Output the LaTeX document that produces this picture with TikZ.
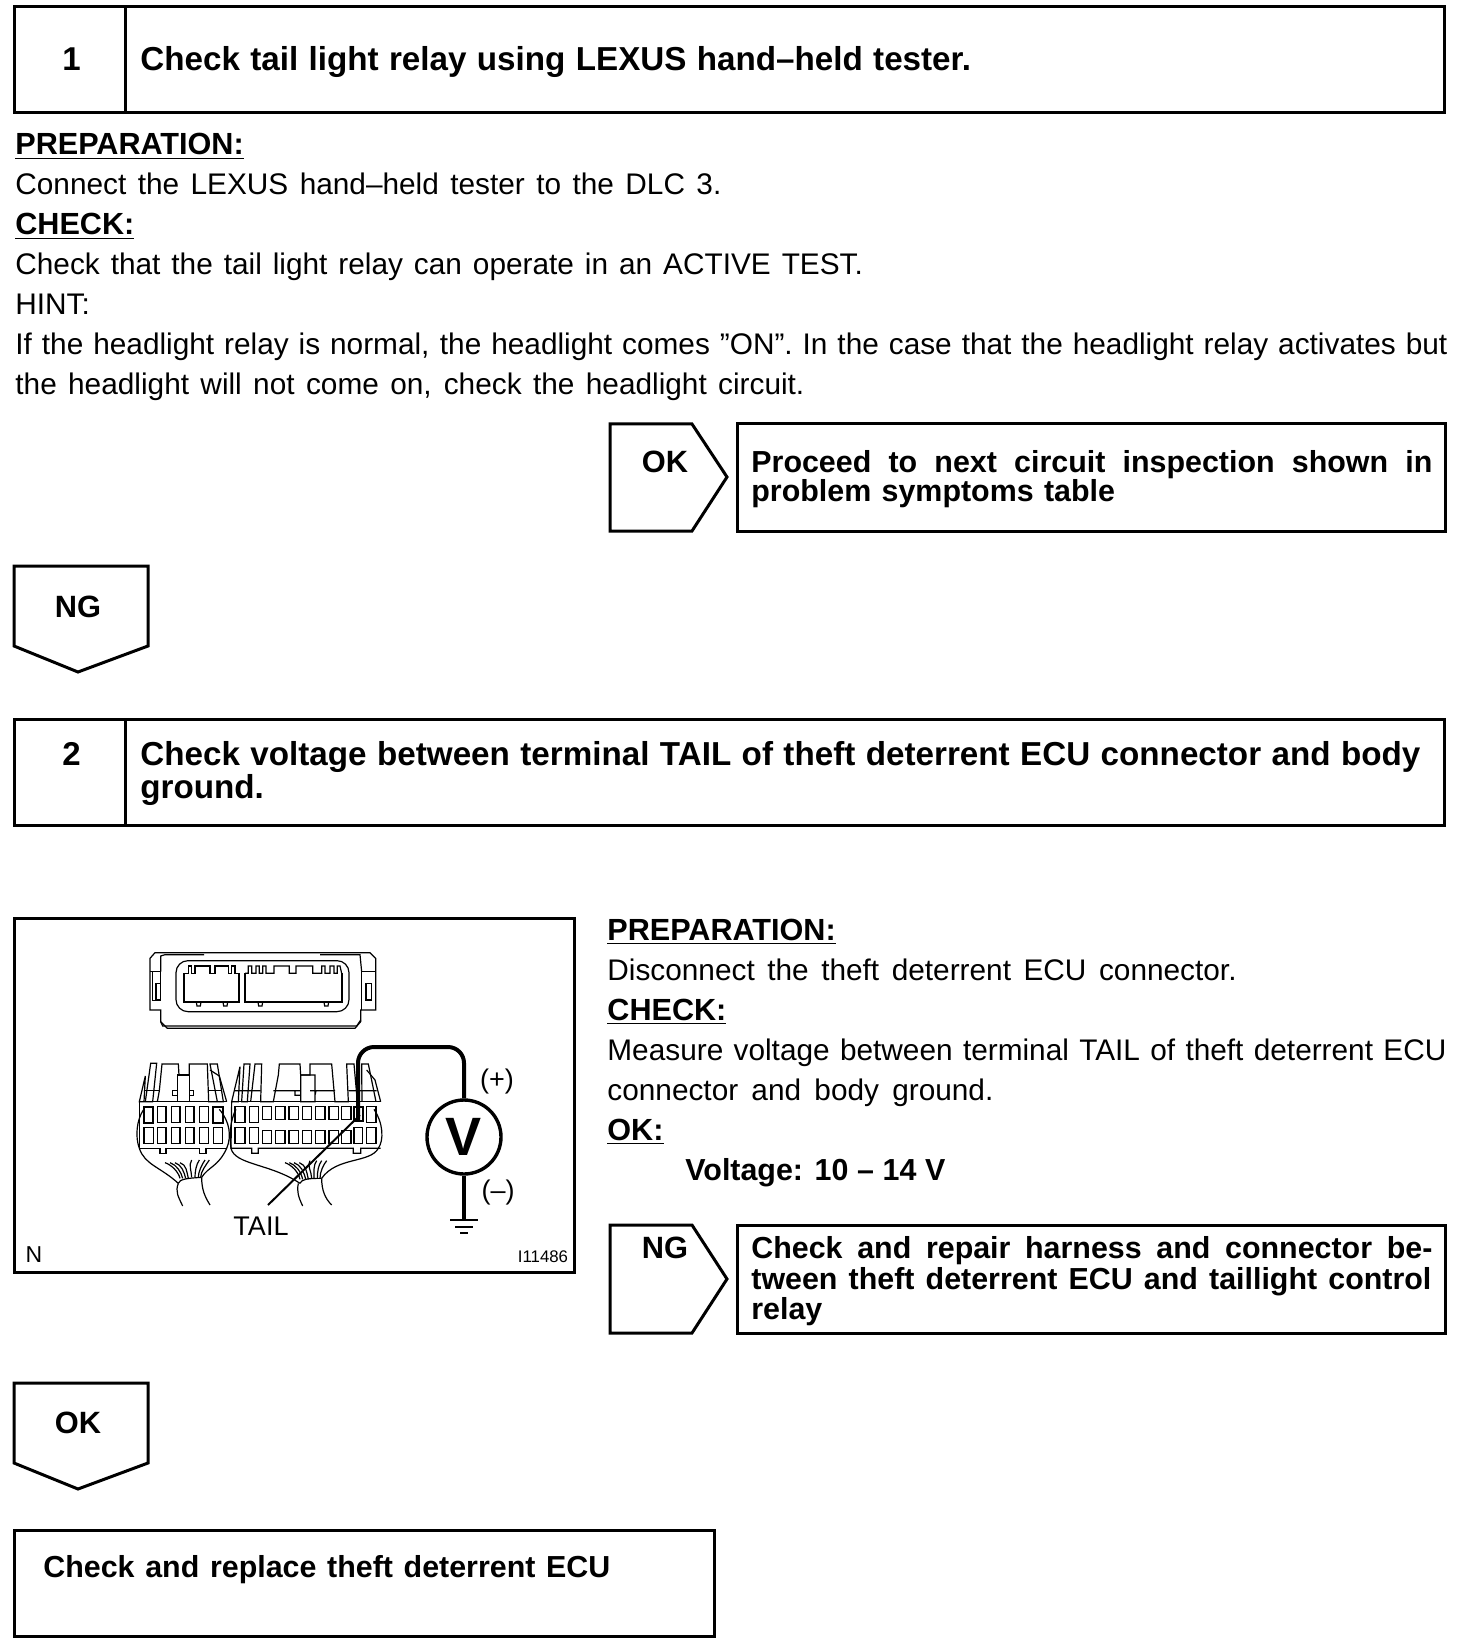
\documentclass[tikz,border=0pt]{standalone}
\usepackage{fontspec}
\setmainfont{Liberation Sans}
\usetikzlibrary{calc, positioning}

\tikzset{
  boxline/.style={line width=1.5pt, line join=miter},
  thinline/.style={line width=0.6pt},
  plain/.style={anchor=base west, inner sep=0pt, font=\fontsize{14.9}{17}\selectfont},
  head/.style={anchor=base west, inner sep=0pt, font=\fontsize{15.3}{18}\bfseries\selectfont},
  boxtext/.style={anchor=base west, inner sep=0pt, font=\fontsize{15.2}{18}\bfseries\selectfont},
  tagtext/.style={anchor=base, inner sep=0pt, font=\fontsize{15.4}{18}\bfseries\selectfont},
  stepnum/.style={anchor=base, inner sep=0pt, font=\fontsize{16.5}{18}\bfseries\selectfont},
  title/.style={anchor=base west, inner sep=0pt, font=\fontsize{16.6}{19}\bfseries\selectfont}
}

\begin{document}
\begin{tikzpicture}[x=0.5pt, y=-0.5pt]
  \useasboundingbox (0,0) rectangle (1472,1652);

  % Step 1 header
  \draw[boxline] (14,7) rectangle (1444,113);
  \draw[boxline] (125.5,7) -- (125.5,113);
  \node[stepnum] (numone) at (71.6,71) {1};
  \node[title] (titleone) at (140,71) {\makebox[415.3pt][s]{Check tail light relay using LEXUS hand–held tester.}};

  % Step 1 text
  \node[head] (prepone) at (15,155) {\underline{PREPARATION:}};
  \node[plain] (connect) at (15,195) {\makebox[353pt][s]{Connect the LEXUS hand–held tester to the DLC 3.}};
  \node[head] (checkone) at (15,235) {\underline{CHECK:}};
  \node[plain] (operate) at (15,275) {\makebox[423.8pt][s]{Check that the tail light relay can operate in an ACTIVE TEST.}};
  \node[plain] (hint) at (15,315) {HINT:};
  \node[plain] (hintone) at (15,355) {\makebox[716pt][s]{If the headlight relay is normal, the headlight comes ”ON”. In the case that the headlight relay activates but}};
  \node[plain] (hinttwo) at (15,395) {\makebox[394.5pt][s]{the headlight will not come on, check the headlight circuit.}};

  % OK result of step 1
  \draw[boxline] (610,424) -- (692,424) -- (727,477) -- (692,531) -- (610,531) -- cycle;
  \node[tagtext] (okone) at (665,473) {OK};
  \draw[boxline] (737,424) rectangle (1445,531);
  \node[boxtext] (procone) at (751,473) {\makebox[340.5pt][s]{Proceed to next circuit inspection shown in}};
  \node[boxtext] (proctwo) at (751,502) {\makebox[181.8pt][s]{problem symptoms table}};

  % NG tag down
  \draw[boxline] (14,566) -- (148,566) -- (148,646) -- (78,672) -- (14,646) -- cycle;
  \node[tagtext] (ngdown) at (78,617) {NG};

  % Step 2 header
  \draw[boxline] (14,719) rectangle (1444,825);
  \draw[boxline] (125.5,719) -- (125.5,825);
  \node[stepnum] (numtwo) at (71.6,765) {2};
  \node[title] (titletwo) at (140,765) {\makebox[640pt][s]{Check voltage between terminal TAIL of theft deterrent ECU connector and body}};
  \node[title] (titlethree) at (140,798) {ground.};

  % Figure frame
  \draw[boxline] (14,918) rectangle (574,1272);

  % ECU side connector
  \begin{scope}[shift={(130,940)}, scale=1/3, thinline]
    \draw (60,210) -- (60,55) -- (75,38) -- (720,38) -- (737,55) -- (737,210) -- (692,210)
      -- (692,245) -- (675,265) -- (112,265) -- (92,245) -- (92,210) -- cycle;
    \draw (92,95) -- (92,48) -- (105,44) -- (222,44) (570,44) -- (690,44) -- (695,95);
    \draw (60,95) -- (92,95) (68,95) -- (68,182) -- (92,182) -- (92,95);
    \draw (737,95) -- (695,95) -- (695,210) (708,130) rectangle (725,180);
    \draw (78,130) rectangle (92,180);
    \draw (92,245) -- (98,258) -- (115,258) -- (680,258) -- (692,240);
    \draw[rounded corners=6pt] (138,62) rectangle (657,215);
    % cavities
    \draw[line width=0.9pt] (162,100) -- (162,186) -- (328,186) -- (328,100)
      (345,100) -- (345,186) -- (635,186) -- (635,100);
    \draw (162,100) -- (175,100) -- (175,78) -- (185,78) -- (185,100) -- (195,100) -- (195,78)
      -- (240,78) -- (240,100) -- (255,100) -- (255,78) -- (295,78) -- (295,100) -- (305,100)
      -- (305,78) -- (315,78) -- (315,100) -- (328,100);
    \draw (345,100) -- (355,100) -- (355,78) -- (365,78) -- (365,100) -- (378,100) -- (378,78)
      -- (388,78) -- (388,100) -- (398,100) -- (398,78) -- (408,78) -- (408,100) -- (432,100)
      -- (432,78) -- (478,78) -- (478,100) -- (498,100) -- (498,78) -- (548,78) -- (548,100)
      -- (575,100) -- (575,78) -- (585,78) -- (585,100) -- (600,100) -- (600,78) -- (612,78)
      -- (612,100) -- (622,100) -- (622,78) -- (630,78) -- (635,100);
    \foreach \tabx in {205,285,390,588}
      \draw (\tabx-6,186) -- (\tabx-4,198) -- (\tabx+6,198) -- (\tabx+8,186);
  \end{scope}

  % Harness side connectors
  \begin{scope}[shift={(130,1050)}, scale=1/3, thinline]
    % left block
    \draw (28,155) -- (46,78) -- (42,155) -- cycle;
    \draw (46,155) -- (62,40) -- (80,40) -- (68,155) -- cycle;
    \draw (82,155) -- (88,122) -- (96,42) -- (145,42) -- (147,75) -- (178,75) -- (178,42) -- (232,42) -- (236,155) -- (262,155) -- (240,42) -- (262,42) -- (280,155) -- (262,155);
    \draw (240,60) -- (268,78) -- (290,155);
    \draw (45,122) -- (88,122) (142,122) -- (128,122) -- (128,136) -- (142,136)
      (178,136) -- (190,136) -- (190,122) -- (178,122) (236,122) -- (272,122);
    \draw (142,75) rectangle (178,155);
    \draw (28,155) -- (290,155);
    \draw (28,155) -- (28,295) -- (90,295) -- (90,310) -- (108,310) -- (108,295) -- (208,295)
      -- (208,310) -- (228,310) -- (228,295) -- (292,295);
    \draw (40,180) .. controls (20,210) and (15,260) .. (28,295)
      .. controls (45,345) and (90,350) .. (145,400);
    \draw (268,178) .. controls (300,215) and (305,260) .. (290,295)
      .. controls (265,350) and (235,350) .. (215,382);
    \draw (145,400) .. controls (150,388) and (165,385) .. (215,382);
    \draw (145,400) .. controls (135,425) and (145,440) .. (158,468)
      (215,382) .. controls (215,420) and (225,440) .. (240,465);
    \foreach \wa/\wb in {105/150,120/158,135/167,150/175}
      \draw (\wa,338) .. controls (\wa+20,345) and (\wb-5,365) .. (\wb,385);
    \foreach \wa/\wb in {185/185,208/195,225/205,238/212}
      \draw (\wa,330) .. controls (\wa-10,345) and (\wb,365) .. (\wb,382);
    \foreach \cella/\cellb in {82/108,124/150,166/192,208/235} {
      \draw[line width=0.8pt] (\cella,170) rectangle (\cellb,218);
      \draw[line width=0.8pt] (\cella,232) rectangle (\cellb,280);
    }
    \foreach \cella/\cellb in {42/70,250/278} {
      \draw[line width=1.1pt] (\cella,170) rectangle (\cellb,218);
      \draw[line width=0.8pt] (\cella,232) rectangle (\cellb,280);
    }
    % right block
    \draw (305,155) -- (330,50) -- (325,155) -- cycle;
    \draw (335,155) -- (342,42) -- (360,42) -- (352,155) -- cycle;
    \draw (362,155) -- (375,42) -- (395,42) -- (392,155) -- (430,155) -- (445,75) -- (448,42) -- (510,42) -- (512,75) -- (540,75) -- (540,42) -- (605,42) -- (615,155) -- (655,155) -- (650,42) -- (672,42) -- (682,155);
    \draw (696,155) -- (695,42) -- (715,42) -- (738,155);
    \draw (710,60) -- (735,90) -- (752,155);
    \draw (315,122) -- (392,122) (430,122) -- (512,122) (512,75) rectangle (555,155)
      (512,136) -- (495,136) -- (495,122) (555,136) -- (558,122) -- (540,122) (555,122) -- (615,122) (655,122) -- (740,122);
    \draw (305,155) -- (752,155);
    \draw (305,155) -- (303,295) -- (365,295) -- (365,310) -- (385,310) -- (385,295) -- (670,295)
      -- (670,310) -- (692,310) -- (692,295) -- (752,295);
    \draw (318,178) .. controls (300,210) and (298,260) .. (303,295)
      .. controls (315,345) and (420,340) .. (510,400);
    \draw (732,178) .. controls (760,220) and (762,270) .. (745,295)
      .. controls (720,340) and (620,320) .. (575,385);
    \draw (510,400) .. controls (515,388) and (530,385) .. (575,385);
    \draw (505,400) .. controls (500,425) and (505,440) .. (518,468)
      (575,385) .. controls (575,420) and (585,445) .. (605,465);
    \foreach \wa/\wb in {465/510,478/518,492/527,508/535}
      \draw (\wa,338) .. controls (\wa+20,345) and (\wb-5,365) .. (\wb,388);
    \foreach \wa/\wb in {540/545,560/552,575/562,590/570}
      \draw (\wa,332) .. controls (\wa-10,345) and (\wb,365) .. (\wb,385);
    \foreach \cella/\cellb in {315/345,358/385} {
      \draw[line width=0.8pt] (\cella,170) rectangle (\cellb,218);
      \draw[line width=0.8pt] (\cella,232) rectangle (\cellb,280);
    }
    \foreach \cella in {397,437,477,517,557,597,635} {
      \draw[line width=0.8pt] (\cella,170) rectangle (\cella+28,208);
      \draw[line width=0.8pt] (\cella,242) rectangle (\cella+28,280);
    }
    \draw[line width=1.1pt] (672,170) rectangle (698,214);
    \draw[line width=0.8pt] (710,170) rectangle (738,218);
    \draw[line width=0.8pt] (672,232) rectangle (698,280);
    \draw[line width=0.8pt] (710,232) rectangle (738,280);
  \end{scope}

  % Voltmeter and ground
  \node[circle, draw, line width=1.7pt, minimum size=37pt, inner sep=0pt,
    font=\fontsize{27}{30}\bfseries\selectfont] (meter) at (464,1137) {V};
  \coordinate (probe) at (358,1120);
  \coordinate (earth) at (464,1220);
  \draw[line width=2pt, rounded corners=8pt] (probe) -- (358,1047) -- (464,1047) -- (meter.north);
  \draw[line width=1.7pt] (meter.south) -- (earth);
  \draw[line width=1pt] (450,1220) -- (478,1220) (455,1227) -- (473,1227) (460,1233) -- (468,1233);
  \node[plain, anchor=center, font=\fontsize{13.5}{15}\selectfont] (plus) at (497,1082) {(+)};
  \node[plain, anchor=center, font=\fontsize{13.5}{15}\selectfont] (minus) at (498,1192) {(–)};

  % Terminal label
  \node[plain, anchor=center, font=\fontsize{13.5}{15}\selectfont] (tail) at (261,1226) {TAIL};
  \coordinate (leader) at (268,1205);
  \draw[line width=1pt] (leader) -- (360,1115);
  \node[plain, anchor=center, font=\fontsize{11.5}{12}\selectfont] (corner) at (34,1255) {N};
  \node[plain, anchor=center, font=\fontsize{8.4}{10}\selectfont] (figid) at (543,1257) {I11486};

  % Step 2 text
  \node[head] (preptwo) at (607,940) {\underline{PREPARATION:}};
  \node[plain] (disconnect) at (607,980) {\makebox[314.6pt][s]{Disconnect the theft deterrent ECU connector.}};
  \node[head] (checktwo) at (607,1020) {\underline{CHECK:}};
  \node[plain] (measure) at (607,1060) {\makebox[419.5pt][s]{Measure voltage between terminal TAIL of theft deterrent ECU}};
  \node[plain] (measuretwo) at (607,1100) {\makebox[193pt][s]{connector and body ground.}};
  \node[head] (oktag) at (607,1140) {\underline{OK:}};
  \node[boxtext] (voltage) at (685,1180) {\makebox[130pt][s]{Voltage: 10 – 14 V}};

  % NG result of step 2
  \draw[boxline] (610,1225) -- (692,1225) -- (727,1279) -- (692,1333) -- (610,1333) -- cycle;
  \node[tagtext] (ngtwo) at (665,1258) {NG};
  \draw[boxline] (737,1225) rectangle (1445,1333);
  \node[boxtext] (repone) at (751,1258) {\makebox[340.5pt][s]{Check and repair harness and connector be-}};
  \node[boxtext] (reptwo) at (751,1289) {\makebox[340pt][s]{tween theft deterrent ECU and taillight control}};
  \node[boxtext] (repthree) at (751,1319) {relay};

  % OK tag down
  \draw[boxline] (14,1383) -- (148,1383) -- (148,1463) -- (78,1489) -- (14,1463) -- cycle;
  \node[tagtext] (okdown) at (78,1433) {OK};

  % Final box
  \draw[boxline] (14,1530) rectangle (714,1636);
  \node[boxtext] (replace) at (43,1577) {\makebox[283.5pt][s]{Check and replace theft deterrent ECU}};
\end{tikzpicture}
\end{document}
